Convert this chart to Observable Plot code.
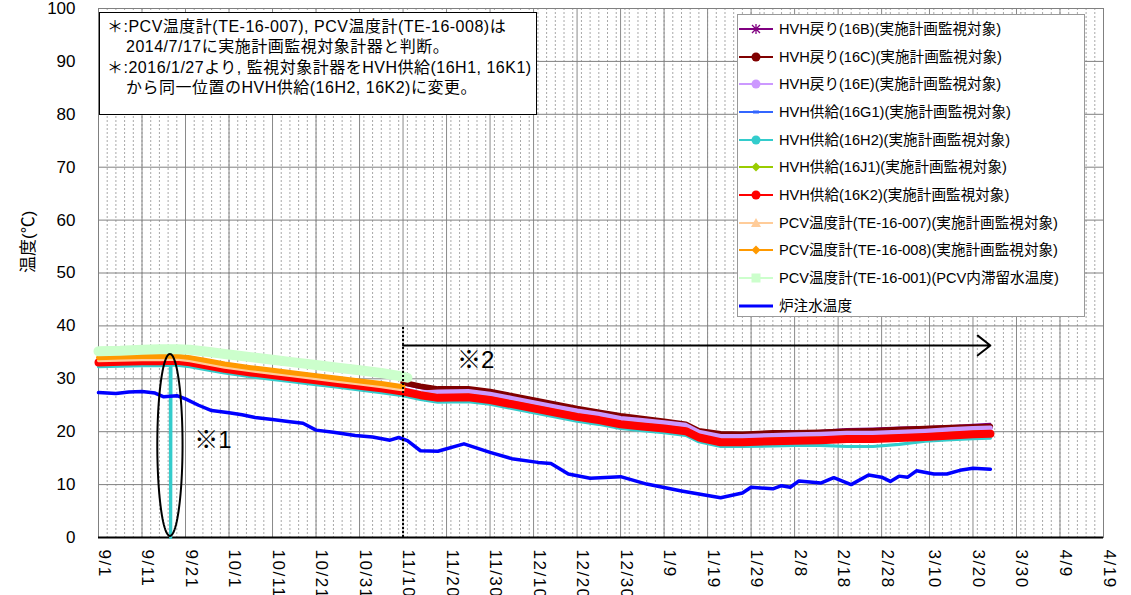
<!DOCTYPE html>
<html><head><meta charset="utf-8">
<script src="https://cdn.jsdelivr.net/npm/d3@7"></script>
<script src="https://cdn.jsdelivr.net/npm/@observablehq/plot@0.6"></script>
<style>
body{margin:0;background:#fff;font-family:"Liberation Sans","Noto Sans CJK JP",sans-serif;}
#wrap{position:relative;width:1131px;height:595px;overflow:hidden;background:#fff;}
#wrap svg{position:absolute;left:0;top:0;}
.note{position:absolute;left:99px;top:12px;width:438px;height:103px;border:1.5px solid #000;background:#fff;box-sizing:border-box;font-size:16px;letter-spacing:0.5px;line-height:20.4px;padding:4px 0 0 7px;color:#000;white-space:pre;}
.note .ind{padding-left:19px;}
.legend{position:absolute;left:737px;top:14px;width:348px;height:303px;border:1px solid #999;background:#fff;box-sizing:border-box;}
.legend .row{position:absolute;left:0;height:20px;line-height:20px;font-size:14.6px;color:#000;white-space:nowrap;}
.legend .row svg{position:absolute;left:4px;top:0;}
.legend .row span{position:absolute;left:41px;top:0;}
</style></head><body><div id="wrap"></div>
<script>
// ---------- data ----------
const tickDates = ["2015-09-01","2015-09-11","2015-09-21","2015-10-01","2015-10-11","2015-10-21","2015-10-31","2015-11-10","2015-11-20","2015-11-30","2015-12-10","2015-12-20","2015-12-30","2016-01-09","2016-01-19","2016-01-29","2016-02-08","2016-02-18","2016-02-28","2016-03-10","2016-03-20","2016-03-30","2016-04-09","2016-04-19"];
const tickLabels = ["9/1","9/11","9/21","10/1","10/11","10/21","10/31","11/10","11/20","11/30","12/10","12/20","12/30","1/9","1/19","1/29","2/8","2/18","2/28","3/10","3/20","3/30","4/9","4/19"];
const yTicks = [0,10,20,30,40,50,60,70,80,90,100];

// full-period dates (9/1 .. 3/24)
const dates = ["2015-09-01","2015-09-06","2015-09-11","2015-09-15","2015-09-19","2015-09-22","2015-09-26","2015-09-30","2015-10-06","2015-10-11","2015-10-15","2015-10-21","2015-10-26","2015-10-31","2015-11-05","2015-11-10","2015-11-14","2015-11-18","2015-11-25","2015-11-30","2015-12-05","2015-12-10","2015-12-15","2015-12-20","2015-12-25","2015-12-30","2016-01-04","2016-01-09","2016-01-14","2016-01-17","2016-01-22","2016-01-27","2016-02-03","2016-02-08","2016-02-14","2016-02-20","2016-02-26","2016-03-03","2016-03-09","2016-03-15","2016-03-20","2016-03-24"];
// early period dates (9/1 .. 11/10)
const earlyDates = dates.slice(0, 16);
// late period dates (11/10 .. 3/24)
const lateDates = dates.slice(15);

const k2Values = [33.1,33.2,33.3,33.3,33.4,33.1,32.5,31.9,31.2,30.7,30.3,29.7,29.2,28.7,28.2,27.6,26.9,26.4,26.5,26.0,25.2,24.4,23.6,22.8,22.2,21.4,21.0,20.6,20.1,18.9,18.0,18.0,18.2,18.3,18.4,18.6,18.6,18.8,19.0,19.3,19.5,19.6];

const h2Dates = ["2015-09-01","2015-09-06","2015-09-11","2015-09-15","2015-09-17T12:30Z","2015-09-17T14:00Z","2015-09-17T15:30Z","2015-09-19","2015-09-22","2015-09-26","2015-09-30","2015-10-06","2015-10-11","2015-10-15","2015-10-21","2015-10-26","2015-10-31","2015-11-05","2015-11-10","2015-11-14","2015-11-18","2015-11-25","2015-11-30","2015-12-05","2015-12-10","2015-12-15","2015-12-20","2015-12-25","2015-12-30","2016-01-04","2016-01-09","2016-01-14","2016-01-17","2016-01-22","2016-01-27","2016-02-03","2016-02-08","2016-02-14","2016-02-20","2016-02-26","2016-03-03","2016-03-09","2016-03-15","2016-03-20","2016-03-24"];
const h2Values = [32.3,32.4,32.5,32.5,32.6,0.0,32.6,32.6,32.3,31.7,31.1,30.4,29.9,29.5,28.9,28.4,27.9,27.4,26.8,26.1,25.6,25.7,25.2,24.4,23.6,22.8,22.0,21.4,20.6,20.2,19.8,19.3,18.1,17.2,17.2,17.3,17.4,17.4,17.2,17.2,17.6,18.2,18.5,18.7,18.8];

const b16Values = [28.9,28.2,27.7,27.7,27.2,26.4,25.6,24.8,24.0,23.3,22.6,22.1,21.6,21.0,19.8,19.2,19.2,19.6,19.7,20.2,20.5,20.6,20.8,20.9,21.1,21.3,21.5];
const c16Values = [29.3,28.6,28.1,28.1,27.6,26.8,26.0,25.2,24.4,23.7,23.0,22.5,22.0,21.4,20.2,19.6,19.5,19.8,19.8,19.9,20.1,20.2,20.4,20.6,20.8,20.9,21.0];
const e16Values = [28.0,27.3,27.5,27.6,27.1,26.3,25.5,24.7,23.9,23.3,22.5,22.1,21.7,21.2,19.9,19.1,19.1,19.3,19.4,19.5,19.7,19.7,19.9,20.1,20.4,20.6,20.7];
const g1Values = [27.3,26.6,26.1,26.2,25.7,24.9,24.1,23.3,22.5,21.9,21.1,20.7,20.3,19.8,18.6,17.7,17.7,17.9,18.0,18.1,18.3,18.3,18.5,18.7,19.0,19.2,19.3];
const j1Values = [28.0,27.3,26.8,26.9,26.4,25.6,24.8,24.0,23.2,22.6,21.8,21.4,21.0,20.5,19.3,18.4,18.4,18.6,18.7,18.8,19.0,19.0,19.2,19.4,19.7,19.9,20.0];

const te007Values = [33.4,33.5,33.6,33.6,33.7,33.4,32.8,32.2,31.5,31.0,30.6,30.0,29.5,29.0,28.5,27.9];
const te008Values = [34.0,34.1,34.2,34.2,34.3,34.0,33.4,32.8,32.1,31.6,31.2,30.6,30.1,29.6,29.1,28.5];
const te001Dates = ["2015-09-01","2015-09-06","2015-09-11","2015-09-15","2015-09-19","2015-09-22","2015-09-26","2015-09-30","2015-10-06","2015-10-11","2015-10-15","2015-10-21","2015-10-26","2015-10-31","2015-11-05","2015-11-10","2015-11-11"];
const te001Values = [35.2,35.3,35.5,35.6,35.6,35.5,35.1,34.7,34.1,33.6,33.2,32.6,32.1,31.6,31.1,30.4,30.2];

const waterDates = ["2015-09-01","2015-09-05","2015-09-08","2015-09-11","2015-09-14","2015-09-16","2015-09-19","2015-09-21","2015-09-24","2015-09-27","2015-10-01","2015-10-04","2015-10-07","2015-10-11","2015-10-15","2015-10-18","2015-10-21","2015-10-25","2015-10-30","2015-11-03","2015-11-07","2015-11-09","2015-11-11","2015-11-14","2015-11-18","2015-11-24","2015-11-30","2015-12-05","2015-12-11","2015-12-14","2015-12-18","2015-12-23","2015-12-30","2016-01-05","2016-01-13","2016-01-22","2016-01-27","2016-01-29","2016-02-03","2016-02-05","2016-02-07","2016-02-09","2016-02-14","2016-02-17","2016-02-21","2016-02-25","2016-02-28","2016-03-01","2016-03-03","2016-03-05","2016-03-07","2016-03-11","2016-03-14","2016-03-17","2016-03-20","2016-03-24"];
const waterValues = [27.4,27.2,27.5,27.6,27.3,26.6,26.8,26.2,25.0,24.0,23.6,23.2,22.7,22.3,21.9,21.6,20.3,19.9,19.3,19.0,18.4,18.9,18.3,16.4,16.3,17.7,16.1,14.9,14.2,14.0,12.0,11.2,11.5,10.1,8.8,7.5,8.4,9.5,9.2,9.8,9.5,10.7,10.3,11.3,10.0,11.8,11.4,10.6,11.6,11.4,12.6,12.0,12.0,12.7,13.1,12.9];

const seriesNames = ["HVH戻り(16B)(実施計画監視対象)","HVH戻り(16C)(実施計画監視対象)","HVH戻り(16E)(実施計画監視対象)","HVH供給(16G1)(実施計画監視対象)","HVH供給(16H2)(実施計画監視対象)","HVH供給(16J1)(実施計画監視対象)","HVH供給(16K2)(実施計画監視対象)","PCV温度計(TE-16-007)(実施計画監視対象)","PCV温度計(TE-16-008)(実施計画監視対象)","PCV温度計(TE-16-001)(PCV内滞留水温度)","炉注水温度"];
const seriesColors = ["#800080","#800000","#cc99ff","#3366ff","#33cccc","#99cc00","#ff0000","#ffcc99","#ff9900","#ccffcc","#0000ff"];
const seriesMarkers = ["star","circle","circle","dash","circle","diamond","circle","triangle","diamond","square","none"];

const noteLines = ["＊:PCV温度計(TE-16-007), PCV温度計(TE-16-008)は","2014/7/17に実施計画監視対象計器と判断。","＊:2016/1/27より, 監視対象計器をHVH供給(16H1, 16K1)","から同一位置のHVH供給(16H2, 16K2)に変更。"];
const yLabel = "温度(℃)";
const changeDate = "2015-11-10";
const arrowEndDate = "2016-03-24";
const arrowY = 36.3;
const changeLineTop = 40;
const mark2 = {date: "2015-11-22T10:00Z", y: 33.5, text: "※2"};
const mark1 = {date: "2015-09-23T00:00Z", y: 18.3, text: "※1"};
const ellipse = {center: "2015-09-17T10:00Z", halfDays: 2.9, yLow: 0.3, yHigh: 34.7};

// ---------- build ----------
const D = s => new Date(s);
const rows = (ds, vs) => ds.map((d, i) => ({date: D(d), v: vs[i]}));
const seriesData = [
  rows(lateDates, b16Values),
  rows(lateDates, c16Values),
  rows(lateDates, e16Values),
  rows(lateDates, g1Values),
  rows(h2Dates, h2Values),
  rows(lateDates, j1Values),
  rows(dates, k2Values),
  rows(earlyDates, te007Values),
  rows(earlyDates, te008Values),
  rows(te001Dates, te001Values),
  rows(waterDates, waterValues)
];
const seriesWidths = [2, 5.5, 5, 2, 3.2, 3, 8, 3, 5, 10, 3.5];

const x0 = D("2015-09-01"), x1 = D("2016-04-19");
const minorGrid = d3.utcDay.every(2).range(x0, x1);

const ellCx = D(ellipse.center).getTime();
const ellMid = (ellipse.yLow + ellipse.yHigh) / 2, ellRy = (ellipse.yHigh - ellipse.yLow) / 2;
const ellPts = d3.range(0, 101).map(i => {
  const t = i / 100 * 2 * Math.PI;
  return {date: new Date(ellCx + Math.cos(t) * ellipse.halfDays * 864e5), v: ellMid + Math.sin(t) * ellRy};
});

const font = "Liberation Sans, Noto Sans CJK JP, sans-serif";
const marks = [
  Plot.ruleX(minorGrid, {stroke: "#a8a8a8", strokeWidth: 1, strokeDasharray: "2,2"}),
  Plot.ruleX(tickDates.map(D), {stroke: "#8a8a8a", strokeWidth: 1}),
  Plot.ruleY(yTicks, {stroke: "#808080", strokeWidth: 1}),
  Plot.frame({stroke: "#808080"}),
  Plot.ruleY([0], {stroke: "#000", strokeWidth: 2}),
  ...seriesData.map((d, i) => Plot.line(d, {x: "date", y: "v", stroke: seriesColors[i], strokeWidth: seriesWidths[i], strokeLinejoin: "round", strokeLinecap: "round"})),
  Plot.ruleX([D(changeDate)], {y1: 0, y2: changeLineTop, stroke: "#000", strokeWidth: 2, strokeDasharray: "2,2"}),
  Plot.arrow([{a: D(changeDate), b: D(arrowEndDate), y: arrowY}], {x1: "a", x2: "b", y1: "y", y2: "y", stroke: "#000", strokeWidth: 2, headLength: 12, headAngle: 76}),
  Plot.line(ellPts, {x: "date", y: "v", stroke: "#000", strokeWidth: 2}),
  Plot.text([mark2], {x: d => D(d.date), y: "y", text: "text", textAnchor: "start", fontSize: 24, fill: "#000"}),
  Plot.text([mark1], {x: d => D(d.date), y: "y", text: "text", textAnchor: "start", fontSize: 24, fill: "#000"}),
  Plot.text(tickDates, {x: d => D(d), text: (d, i) => tickLabels[i], frameAnchor: "bottom", dy: 12, rotate: 90, textAnchor: "start", fontSize: 17, fill: "#000"}),
  Plot.axisY(yTicks, {tickSize: 0, tickPadding: 23, fontSize: 17, label: null, color: "#000"}),
  Plot.text([yLabel], {frameAnchor: "left", dx: -70, rotate: -90, fontSize: 17, fill: "#000"})
];

const chart = Plot.plot({
  width: 1131, height: 595,
  marginLeft: 98, marginRight: 28, marginTop: 8, marginBottom: 58,
  style: {fontFamily: font, background: "#fff", overflow: "hidden"},
  x: {type: "utc", domain: [x0, x1], axis: null},
  y: {domain: [0, 100], axis: null},
  marks
});
// widen the spacing of the rotated date labels (the group with one text per tick)
chart.querySelectorAll("g[aria-label='text']").forEach(g => {
  if (g.querySelectorAll("text").length === tickDates.length) g.style.letterSpacing = "1.5px";
});
const wrap = document.getElementById("wrap");
wrap.appendChild(chart);

// note box
const note = document.createElement("div");
note.className = "note";
noteLines.forEach((t, i) => {
  const l = document.createElement("div");
  if (i % 2 === 1) l.className = "ind";
  l.textContent = t;
  note.appendChild(l);
});
wrap.appendChild(note);

// legend
const legend = document.createElement("div");
legend.className = "legend";
function markerSvg(type, color) {
  const cx = 18, cy = 10;
  let m = "";
  if (type === "circle") m = `<circle cx="${cx}" cy="${cy}" r="4.5" fill="${color}"/>`;
  else if (type === "diamond") m = `<path d="M${cx} ${cy-4.5}L${cx+4.5} ${cy}L${cx} ${cy+4.5}L${cx-4.5} ${cy}Z" fill="${color}"/>`;
  else if (type === "triangle") m = `<path d="M${cx} ${cy-5}L${cx+5} ${cy+4}L${cx-5} ${cy+4}Z" fill="${color}"/>`;
  else if (type === "square") m = `<rect x="${cx-4.5}" y="${cy-4.5}" width="9" height="9" fill="${color}"/>`;
  else if (type === "dash") m = `<rect x="${cx-3}" y="${cy-1.5}" width="6" height="3" fill="${color}"/>`;
  else if (type === "star") m = `<path d="M${cx-4} ${cy-4}L${cx+4} ${cy+4}M${cx+4} ${cy-4}L${cx-4} ${cy+4}M${cx} ${cy-5}L${cx} ${cy+5}" stroke="${color}" stroke-width="1.3"/>`;
  const w = type === "none" ? 3 : 2;
  return `<svg width="36" height="20"><line x1="1" y1="${cy}" x2="35" y2="${cy}" stroke="${color}" stroke-width="${w}"/>${m}</svg>`;
}
seriesNames.forEach((name, i) => {
  const r = document.createElement("div");
  r.className = "row";
  r.style.top = (4 + 27.65 * i) + "px";
  r.innerHTML = markerSvg(seriesMarkers[i], seriesColors[i]);
  const s = document.createElement("span");
  s.textContent = name;
  r.appendChild(s);
  legend.appendChild(r);
});
wrap.appendChild(legend);
</script></body></html>
